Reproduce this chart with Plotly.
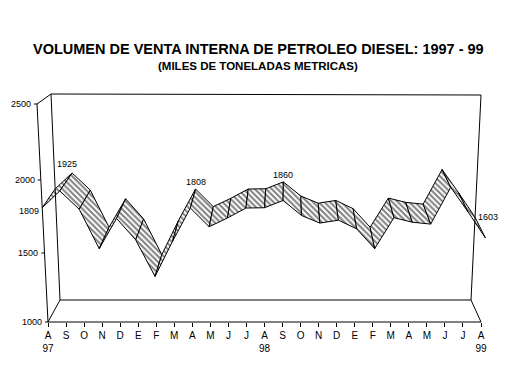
import numpy as np
import plotly.graph_objects as go

# ---------------- data ----------------
months = ["A", "S", "O", "N", "D", "E", "F", "M", "A", "M", "J", "J",
          "A", "S", "O", "N", "D", "E", "F", "M", "A", "M", "J", "J", "A"]
years = ["97"] + [""] * 11 + ["98"] + [""] * 11 + ["99"]
values = [1809, 1925, 1800, 1530, 1737, 1590, 1330, 1580, 1808, 1680, 1740, 1808,
          1810, 1860, 1757, 1705, 1725, 1665, 1530, 1742, 1711, 1698, 1950, 1780, 1603]
label_idx = [0, 1, 8, 13, 24]
y_ticks = [1000, 1500, 2000, 2500]

title = "VOLUMEN DE VENTA INTERNA DE PETROLEO DIESEL: 1997 - 99"
subtitle = "(MILES DE TONELADAS METRICAS)"

FONT = "Arial, Liberation Sans, sans-serif"

# ---------------- geometry (window pixel layout of the 3-D box) ----------------
W, H = 509, 387
OFF = 8                     # page body margin: figure origin sits at (8, 8) in the window
ML, MR, MT, MB = 2, 13, 72, 73   # plot area in figure pixels
FX0, FX1 = 48, 481          # front floor edge (window px)
FY0, FY1 = 322, 104         # value 1000 / 2500 on the front face (window px)
N = len(values) - 1
SX = (FX1 - FX0) / N
SY = (FY0 - FY1) / 1500.0
VMIN, VMAX = y_ticks[0], y_ticks[-1]


def to_data(px, py):
    fx, fy = px - OFF, py - OFF
    return (fx - (FX0 - OFF)) / SX, VMIN + ((FY0 - OFF) - fy) / SY


def to_paper(px, py):
    fx, fy = px - OFF, py - OFF
    return (fx - ML) / (W - ML - MR), (H - MB - fy) / (H - MT - MB)


def proj(i, v, t):
    """project category i, value v, depth t (0 front, 1 back) to window pixels"""
    f = (v - VMIN) / (VMAX - VMIN)
    yf = np.interp(v, y_ticks, [322, 253, 180, 104])
    yb = 300 - 206 * f
    xlf, xrf = 48 - 11 * f, 481 + 11 * f
    xlb, xrb = 60 - 9 * f, 471 + 10 * f
    xf = xlf + i * (xrf - xlf) / N
    xb = xlb + i * (xrb - xlb) / N
    return xf + t * (xb - xf), yf + t * (yb - yf)


fig = go.Figure()

# ribbon segments
for i in range(N):
    pts = [proj(i, values[i], 0), proj(i + 1, values[i + 1], 0),
           proj(i + 1, values[i + 1], 1), proj(i, values[i], 1), proj(i, values[i], 0)]
    d = [to_data(*p) for p in pts]
    fig.add_trace(go.Scatter(
        x=[p[0] for p in d], y=[p[1] for p in d], mode="lines",
        fill="toself", fillcolor="white",
        fillpattern=dict(shape="\\", size=4, solidity=0.5, fgcolor="black", bgcolor="white"),
        line=dict(color="black", width=1), hoverinfo="skip", showlegend=False))

# frame of the 3-D box
frame = [
    ((37, 104), (48, 322)), ((37, 104), (51, 94)), ((51, 94), (481, 95)),
    ((51, 94), (60, 300)), ((481, 95), (471, 300)), ((60, 300), (471, 300)),
    ((48, 322), (60, 300)), ((481, 322), (471, 300)), ((48, 322), (481, 322)),
]
shapes = []
for (a, b) in frame:
    pa, pb = to_paper(*a), to_paper(*b)
    shapes.append(dict(type="line", xref="paper", yref="paper", x0=pa[0], y0=pa[1],
                       x1=pb[0], y1=pb[1], line=dict(color="black", width=1)))

annotations = []
# y tick marks and labels on the slanted front axis
for v in y_ticks:
    px, py = proj(0, v, 0)
    a, b = to_paper(px - 3, py), to_paper(px, py)
    shapes.append(dict(type="line", xref="paper", yref="paper", x0=a[0], y0=a[1],
                       x1=b[0], y1=b[1], line=dict(color="black", width=1)))
    dx, dy = to_data(px - 4, py)
    annotations.append(dict(x=dx, y=dy, xref="x", yref="y", text=str(v), showarrow=False,
                            xanchor="right", yanchor="middle",
                            font=dict(family=FONT, size=9, color="black")))

# data labels
for i in label_idx:
    v = values[i]
    if i == 0:
        px, py = proj(i, v, 0)
        dx, dy = to_data(px - 1, py + 3)
        annotations.append(dict(x=dx, y=dy, xref="x", yref="y", text=str(v), showarrow=False,
                                xanchor="right", yanchor="middle",
                                font=dict(family=FONT, size=9, color="black")))
    elif i == N:
        px, py = proj(i, v, 1)
        dx, dy = to_data(px + 1, py)
        annotations.append(dict(x=dx, y=dy, xref="x", yref="y", text=str(v), showarrow=False,
                                xanchor="left", yanchor="middle",
                                font=dict(family=FONT, size=9, color="black")))
    else:
        px, py = proj(i, v, 1)
        dx, dy = to_data(px - (5 if i == 1 else 0), py - (2 if i == 1 else 0))
        annotations.append(dict(x=dx, y=dy, xref="x", yref="y", text=str(v), showarrow=False,
                                xanchor="center", yanchor="bottom",
                                font=dict(family=FONT, size=9, color="black")))

# titles
tx, ty = to_paper(258.5, 49)
annotations.append(dict(x=tx, y=ty, xref="paper", yref="paper", text="<b>" + title + "</b>",
                        showarrow=False, xanchor="center", yanchor="middle",
                        font=dict(family=FONT, size=14.5, color="black")))
sx_, sy_ = to_paper(257.5, 66)
annotations.append(dict(x=sx_, y=sy_, xref="paper", yref="paper", text="<b>" + subtitle + "</b>",
                        showarrow=False, xanchor="center", yanchor="middle",
                        font=dict(family=FONT, size=11.5, color="black")))

ticktext = [m + ("<br>" + y if y else "") for m, y in zip(months, years)]

fig.update_layout(
    width=W, height=H, margin=dict(l=ML, r=MR, t=MT, b=MB, pad=0),
    paper_bgcolor="white", plot_bgcolor="white", showlegend=False,
    shapes=shapes, annotations=annotations,
    xaxis=dict(range=[(ML - (FX0 - OFF)) / SX, (W - MR - (FX0 - OFF)) / SX], tickmode="array",
               tickvals=list(range(N + 1)), ticktext=ticktext, ticks="outside", ticklen=4,
               tickcolor="black", tickwidth=1, showgrid=False, zeroline=False, showline=False,
               tickfont=dict(family=FONT, size=10, color="black"), fixedrange=True),
    yaxis=dict(range=[VMIN, VMIN + ((FY0 - OFF) - MT) / SY], showticklabels=False, ticks="",
               showgrid=False, zeroline=False, showline=False, fixedrange=True),
)

fig.write_html("out.html")
